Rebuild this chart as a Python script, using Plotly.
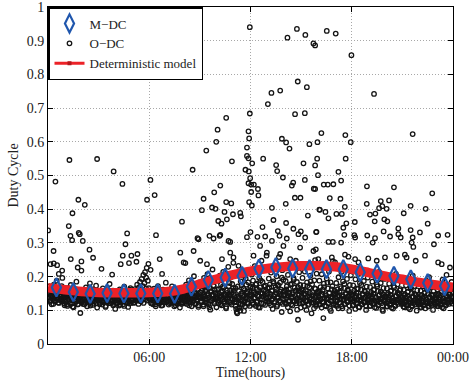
import plotly.graph_objects as go

# ---------------- data ----------------
# M-DC (hourly mean duty cycle), plotted at the middle of each hour
mdc_t = [0.5, 1.5, 2.5, 3.5, 4.5, 5.5, 6.5, 7.5, 8.5, 9.5, 10.5, 11.5,
         12.5, 13.5, 14.5, 15.5, 16.5, 17.5, 18.5, 19.5, 20.5, 21.5, 22.5, 23.5]
mdc_v = [0.168, 0.154, 0.149, 0.151, 0.150, 0.150, 0.150, 0.149, 0.170, 0.190, 0.197, 0.202,
         0.224, 0.228, 0.224, 0.222, 0.222, 0.222, 0.213, 0.209, 0.202, 0.192, 0.181, 0.172]

# Deterministic model
model_t = [0, 1, 2, 3, 4, 5, 6, 7, 8, 9, 10, 11, 12, 13, 14, 15, 16, 17, 18, 19, 20, 21, 22, 23, 24]
model_v = [0.167, 0.161, 0.156, 0.153, 0.152, 0.152, 0.153, 0.155, 0.163, 0.178, 0.193, 0.206, 0.216,
           0.224, 0.229, 0.232, 0.232, 0.229, 0.222, 0.212, 0.201, 0.192, 0.183, 0.175, 0.168]

# O-DC observations: dense band, samples per hour (regularly sampled within the hour)
band = [
    [.152,.138,.171,.129,.145,.163,.118,.157,.141,.134,.176,.149,.126,.160,.137,.188,.144,.131,.155,.122,.168,.140,.147,.133,.159,.196,.127,.151,.143,.115],
    [.139,.124,.158,.147,.113,.166,.132,.151,.128,.144,.175,.136,.120,.153,.141,.109,.162,.131,.149,.125,.185,.137,.146,.118,.157,.133,.142,.092,.129,.154],
    [.146,.131,.119,.158,.137,.125,.149,.168,.134,.112,.143,.155,.128,.139,.180,.122,.151,.133,.145,.116,.162,.138,.127,.147,.135,.173,.121,.141,.153,.130],
    [.135,.148,.122,.157,.129,.141,.117,.165,.138,.126,.152,.144,.113,.133,.160,.127,.147,.136,.121,.178,.140,.131,.150,.124,.143,.158,.119,.137,.146,.104],
    [.128,.143,.155,.121,.137,.149,.114,.162,.132,.141,.125,.153,.136,.118,.147,.170,.130,.139,.124,.158,.133,.145,.110,.151,.127,.140,.166,.122,.135,.148],
    [.134,.150,.122,.143,.163,.129,.157,.138,.176,.145,.131,.168,.152,.184,.127,.160,.193,.141,.172,.205,.136,.181,.213,.149,.197,.226,.158,.188,.238,.166],
    [.147,.131,.159,.122,.140,.153,.118,.136,.164,.128,.145,.112,.151,.138,.126,.172,.133,.143,.121,.157,.135,.129,.149,.115,.161,.139,.124,.146,.132,.182],
    [.139,.152,.126,.144,.117,.160,.133,.148,.123,.137,.171,.129,.154,.141,.112,.158,.135,.146,.120,.163,.131,.143,.127,.150,.108,.138,.166,.124,.145,.134],
    [.145,.162,.128,.151,.137,.176,.119,.156,.141,.133,.189,.124,.148,.167,.135,.112,.158,.143,.129,.201,.152,.138,.121,.171,.146,.131,.160,.115,.183,.140],
    [.153,.138,.181,.127,.164,.145,.112,.196,.141,.158,.123,.175,.134,.207,.149,.118,.168,.139,.102,.186,.155,.130,.221,.146,.172,.125,.161,.136,.192,.109],
    [.162,.135,.188,.121,.149,.203,.141,.176,.115,.157,.131,.214,.168,.127,.183,.145,.106,.196,.152,.138,.229,.171,.124,.159,.143,.199,.117,.178,.134,.241],
    [.158,.142,.126,.113,.104,.095,.091,.171,.137,.121,.108,.099,.186,.150,.131,.117,.203,.165,.144,.127,.112,.194,.176,.139,.155,.119,.212,.134,.147,.168],
    [.171,.143,.206,.122,.188,.157,.135,.231,.149,.113,.179,.162,.128,.214,.141,.196,.108,.168,.152,.247,.133,.184,.119,.159,.224,.146,.173,.137,.262,.127],
    [.165,.138,.194,.121,.177,.149,.212,.131,.158,.104,.186,.143,.233,.126,.169,.152,.201,.116,.175,.139,.258,.147,.182,.124,.161,.095,.219,.134,.191,.155],
    [.158,.132,.187,.119,.171,.145,.205,.126,.163,.149,.097,.228,.139,.178,.114,.153,.196,.128,.167,.142,.247,.121,.184,.136,.072,.159,.213,.131,.175,.108],
    [.162,.137,.196,.124,.174,.148,.215,.129,.157,.101,.183,.141,.238,.119,.168,.152,.203,.133,.091,.177,.145,.226,.122,.189,.139,.164,.113,.209,.154,.127],
    [.155,.131,.188,.117,.169,.143,.207,.125,.161,.077,.179,.137,.229,.148,.112,.194,.134,.165,.121,.215,.152,.104,.183,.140,.126,.172,.246,.146,.119,.158],
    [.149,.128,.181,.113,.162,.139,.198,.122,.155,.171,.134,.214,.145,.106,.186,.131,.166,.119,.226,.152,.137,.193,.124,.158,.143,.098,.175,.133,.204,.147],
    [.146,.127,.174,.116,.158,.137,.192,.121,.151,.165,.132,.208,.142,.109,.181,.128,.161,.118,.219,.149,.135,.187,.123,.155,.139,.101,.170,.130,.197,.144],
    [.143,.124,.169,.113,.154,.134,.185,.119,.148,.162,.129,.201,.139,.107,.176,.126,.157,.115,.214,.146,.132,.181,.121,.151,.137,.098,.166,.128,.193,.141],
    [.141,.122,.165,.111,.151,.131,.179,.117,.145,.158,.127,.196,.136,.105,.172,.124,.154,.113,.208,.143,.130,.177,.119,.148,.134,.159,.163,.126,.188,.139],
    [.138,.120,.161,.109,.148,.129,.174,.115,.142,.155,.125,.190,.134,.103,.168,.122,.151,.112,.203,.140,.128,.172,.117,.146,.132,.099,.159,.124,.183,.136],
    [.136,.118,.158,.108,.146,.127,.171,.114,.140,.152,.123,.186,.132,.165,.121,.149,.111,.198,.138,.126,.169,.116,.144,.130,.101,.156,.122,.179,.134,.147],
    [.139,.121,.162,.112,.149,.131,.176,.117,.144,.156,.127,.191,.136,.106,.169,.125,.153,.115,.205,.142,.133,.174,.119,.148,.135,.160,.128,.184,.141,.151],
]
band2 = [
    [.133,.147,.125,.161,.139,.152,.119,.144,.130,.166,.136,.149,.123,.157,.141,.128,.172,.135,.146,.120],
    [.129,.145,.117,.152,.134,.140,.123,.159,.137,.111,.148,.131,.163,.126,.143,.118,.136,.154,.127,.141],
    [.124,.139,.152,.118,.143,.130,.161,.126,.147,.135,.114,.150,.129,.141,.122,.156,.133,.145,.108,.138],
    [.131,.118,.146,.137,.124,.153,.129,.141,.110,.149,.134,.126,.158,.139,.121,.144,.132,.115,.151,.128],
    [.136,.122,.149,.131,.144,.117,.156,.138,.127,.142,.113,.152,.134,.125,.147,.139,.120,.161,.130,.143],
    [.131,.146,.124,.139,.154,.128,.143,.119,.150,.135,.127,.158,.140,.122,.147,.133,.165,.129,.144,.137],
    [.134,.148,.121,.140,.129,.155,.137,.118,.145,.131,.162,.126,.143,.135,.114,.150,.128,.141,.124,.157],
    [.128,.143,.136,.152,.121,.140,.130,.158,.125,.146,.133,.115,.149,.138,.124,.155,.131,.142,.119,.136],
    [.134,.121,.149,.140,.127,.157,.136,.115,.146,.131,.165,.124,.142,.138,.118,.152,.129,.144,.110,.137],
    [.142,.126,.158,.135,.117,.149,.131,.167,.122,.144,.138,.109,.155,.128,.146,.134,.174,.120,.151,.139],
    [.146,.129,.163,.138,.118,.154,.132,.171,.125,.148,.139,.110,.159,.127,.144,.181,.122,.151,.135,.166],
    [.149,.132,.166,.124,.141,.105,.157,.137,.118,.174,.145,.128,.098,.160,.135,.152,.121,.183,.143,.113],
    [.147,.129,.165,.118,.153,.138,.176,.124,.144,.109,.160,.133,.189,.121,.150,.141,.170,.116,.157,.135],
    [.151,.127,.168,.140,.115,.158,.134,.181,.122,.147,.162,.111,.138,.174,.129,.155,.143,.197,.119,.146],
    [.144,.123,.162,.137,.109,.153,.129,.177,.118,.148,.140,.191,.126,.158,.134,.102,.169,.145,.121,.155],
    [.141,.120,.159,.134,.112,.150,.127,.172,.116,.145,.138,.186,.123,.154,.131,.106,.165,.143,.118,.149],
    [.139,.118,.156,.132,.108,.147,.125,.169,.114,.143,.136,.182,.121,.151,.129,.098,.162,.141,.116,.147],
    [.137,.116,.153,.130,.106,.145,.123,.166,.112,.141,.134,.178,.119,.148,.127,.161,.140,.114,.152,.131],
    [.135,.114,.151,.128,.104,.143,.121,.163,.110,.139,.132,.175,.118,.146,.125,.158,.138,.112,.149,.129],
    [.133,.113,.148,.126,.142,.120,.160,.109,.137,.130,.171,.116,.144,.124,.155,.136,.102,.147,.127,.139],
    [.131,.112,.146,.125,.140,.118,.157,.108,.135,.129,.168,.115,.142,.123,.152,.134,.149,.126,.138,.119],
    [.130,.111,.144,.123,.138,.117,.154,.107,.133,.127,.164,.114,.140,.121,.149,.132,.146,.124,.136,.118],
    [.129,.110,.142,.122,.137,.116,.151,.106,.132,.126,.161,.113,.139,.120,.147,.131,.144,.123,.135,.117],
    [.131,.113,.145,.124,.139,.119,.155,.109,.134,.128,.165,.116,.141,.122,.150,.133,.147,.125,.137,.120],
]

# O-DC observations away from the band (time in hours, duty cycle)
out_t = [11.96, 14.75, 14.19, 15.25, 15.73, 15.83, 14.80, 15.34, 13.76, 13.24, 13.03, 11.96, 14.64, 15.22,
         10.56, 10.05, 11.88, 16.52, 17.05, 17.98, 19.32, 16.20, 17.62, 21.61, 15.97, 17.94, 15.95, 17.64,
         15.83, 17.21, 16.00, 17.37, 16.34, 16.58, 16.91, 18.90, 20.50, 22.77, 15.83, 16.70, 17.33, 18.89,
         19.72, 20.21, 21.49, 17.59, 16.11, 16.44, 17.09, 17.41, 19.08, 19.40, 19.62, 19.81, 20.07, 21.08,
         22.38, 16.62, 17.68, 19.36, 19.93, 20.11, 22.50, 17.50, 18.18, 20.76, 21.49, 19.89, 15.91, 22.04,
         1.27, 2.91, 3.89, 0.44, 4.41, 6.07, 1.80, 2.18, 5.87, 6.32, 0.01, 1.45, 1.23, 1.82, 1.88, 1.33,
         1.43, 2.06, 4.69, 4.59, 6.40, 7.94, 0.33, 2.46, 2.67, 1.35, 1.98, 1.76, 1.98, 4.43, 4.94, 5.30,
         4.31, 4.80, 5.24, 3.17, 3.80, 6.62, 6.08, 6.76, 7.84, 8.04, 0.15, 0.34, 0.54, 0.84, 0.64,
         9.97, 11.92, 13.86, 14.11, 14.31, 15.49, 9.38, 11.79, 10.90, 11.79, 11.88, 12.10, 12.75, 8.57,
         11.70, 11.90, 11.98, 13.52, 13.58, 15.14, 13.92, 15.22, 11.88, 12.04, 12.20, 12.44, 12.04, 12.47,
         14.53, 14.45, 15.75, 10.21, 9.85, 9.22, 14.63, 14.96, 11.92, 12.08, 10.56, 10.86, 9.72, 9.93,
         9.12, 13.27, 14.09, 15.40, 16.08, 10.46, 10.96, 11.39, 11.43, 10.60, 10.28, 10.09, 13.36, 14.11,
         12.00, 12.71, 9.57, 9.81, 10.21, 10.70, 10.80, 8.92, 13.62, 13.72, 14.15, 14.54, 14.84, 14.98,
         15.89, 12.41, 12.87, 11.79, 17.56, 18.15, 18.20, 18.92, 19.38, 20.27, 20.76, 20.90, 16.62, 16.88,
         17.37, 19.24, 21.61, 21.55, 21.65, 22.87, 23.68, 23.12, 15.87, 17.60, 17.80, 18.20, 18.40, 18.98,
         19.48, 19.97, 20.66, 21.15, 21.25, 21.79, 22.34, 23.12, 23.33, 23.82, 16.02, 16.32, 16.82, 17.01,
         8.14, 8.63, 8.86, 10.17, 10.80, 10.31, 10.99, 11.29, 9.42, 9.02, 12.18, 12.57, 12.97, 13.27,
         13.76, 13.95, 14.35, 14.94, 15.24, 15.73, 15.83]
out_v = [0.940, 0.935, 0.909, 0.917, 0.892, 0.886, 0.779, 0.762, 0.752, 0.745, 0.712, 0.684, 0.682, 0.685,
         0.671, 0.636, 0.631, 0.929, 0.921, 0.857, 0.742, 0.626, 0.620, 0.623, 0.599, 0.599, 0.550, 0.550,
         0.530, 0.511, 0.501, 0.485, 0.473, 0.473, 0.474, 0.468, 0.465, 0.447, 0.460, 0.433, 0.431, 0.416,
         0.424, 0.426, 0.410, 0.407, 0.398, 0.392, 0.386, 0.386, 0.384, 0.387, 0.403, 0.409, 0.401, 0.388,
         0.401, 0.373, 0.358, 0.364, 0.370, 0.364, 0.357, 0.345, 0.362, 0.343, 0.338, 0.334, 0.333, 0.331,
         0.546, 0.549, 0.512, 0.482, 0.475, 0.487, 0.428, 0.413, 0.428, 0.442, 0.337, 0.388, 0.350, 0.330, 0.326, 0.321,
         0.308, 0.306, 0.328, 0.296, 0.323, 0.363, 0.276, 0.280, 0.256, 0.252, 0.245, 0.227, 0.218, 0.262, 0.262, 0.267,
         0.237, 0.240, 0.244, 0.223, 0.206, 0.252, 0.220, 0.208, 0.271, 0.242, 0.237, 0.239, 0.234, 0.218, 0.208,
         0.600, 0.610, 0.609, 0.598, 0.580, 0.593, 0.574, 0.583, 0.542, 0.558, 0.551, 0.536, 0.550, 0.517,
         0.517, 0.512, 0.492, 0.531, 0.513, 0.536, 0.494, 0.487, 0.477, 0.473, 0.473, 0.460, 0.451, 0.441,
         0.479, 0.470, 0.461, 0.470, 0.450, 0.431, 0.434, 0.434, 0.421, 0.411, 0.421, 0.417, 0.405, 0.401,
         0.397, 0.404, 0.416, 0.381, 0.399, 0.392, 0.385, 0.389, 0.379, 0.370, 0.357, 0.365, 0.368, 0.359,
         0.332, 0.347, 0.321, 0.313, 0.324, 0.306, 0.303, 0.311, 0.335, 0.321, 0.313, 0.342, 0.326, 0.334,
         0.332, 0.318, 0.319, 0.317, 0.324, 0.323, 0.316, 0.322, 0.314, 0.319, 0.326, 0.316, 0.303, 0.303,
         0.301, 0.301, 0.316, 0.301, 0.288, 0.296, 0.324, 0.322, 0.281, 0.265, 0.259, 0.252, 0.242, 0.254,
         0.247, 0.257, 0.262, 0.265, 0.257, 0.247, 0.262, 0.242, 0.237, 0.227, 0.252, 0.237, 0.257, 0.242,
         0.240, 0.276, 0.314, 0.321, 0.271, 0.252, 0.257, 0.232, 0.237, 0.247, 0.262, 0.291, 0.271, 0.306,
         0.267, 0.291, 0.252, 0.286, 0.316, 0.276, 0.249]

x_tickvals = [6, 12, 18, 24]
x_ticktext = ["06:00", "12:00", "18:00", "00:00"]
y_tickvals = [0, 0.1, 0.2, 0.3, 0.4, 0.5, 0.6, 0.7, 0.8, 0.9, 1]
y_ticktext = ["0", "0.1", "0.2", "0.3", "0.4", "0.5", "0.6", "0.7", "0.8", "0.9", "1"]

# ---------------- build observation arrays ----------------
odc_t, odc_v = [], []
for h, vals in enumerate(band):
    n = len(vals)
    for i, v in enumerate(vals):
        odc_t.append(h + (i + 0.5) / n)
        odc_v.append(v)
for h, vals in enumerate(band2):
    n = len(vals)
    for i, v in enumerate(vals):
        odc_t.append(h + (i + 0.25) / n)
        odc_v.append(v)
odc_t += out_t
odc_v += out_v

FONT = "Liberation Serif, Times New Roman, serif"
RED = "#ec2227"
BLUE = "#1f56ad"

fig = go.Figure()

fig.add_trace(go.Scatter(
    x=odc_t, y=odc_v, mode="markers", name="O\u2212DC", legendrank=2,
    marker=dict(symbol="circle-open", size=4.5, color="#141414", line=dict(width=1.3)),
))
fig.add_trace(go.Scatter(
    x=model_t, y=model_v, mode="lines", showlegend=False, legendgroup="det",
    line=dict(color=RED, width=9.5, shape="spline"),
))
fig.add_trace(go.Scatter(
    x=[None], y=[None], mode="lines+markers", name="Deterministic model",
    legendgroup="det", legendrank=3,
    line=dict(color=RED, width=3),
    marker=dict(symbol="square", size=4, color="#b3161b"),
))
fig.add_trace(go.Scatter(
    x=mdc_t, y=mdc_v, mode="markers", name="M\u2212DC", legendrank=1,
    marker=dict(symbol="diamond-tall-open", size=13, color=BLUE, line=dict(width=2.2, color=BLUE)),
))

axis_common = dict(
    showgrid=True, gridcolor="#a8a8a8", griddash="1px,2px", gridwidth=1,
    showline=True, linecolor="black", linewidth=1, mirror="ticks",
    ticks="inside", ticklen=5, tickcolor="black", zeroline=False,
    tickfont=dict(family=FONT, size=14, color="#222"),
    ticklabeloverflow="allow",
    automargin=False,
)

fig.update_xaxes(
    range=[0, 24], tickvals=x_tickvals, ticktext=x_ticktext,
    title=dict(text="Time(hours)", font=dict(family=FONT, size=14, color="#222"), standoff=0),
    **axis_common,
)
fig.update_yaxes(
    range=[0, 1], tickvals=y_tickvals, ticktext=y_ticktext,
    title=dict(text="Duty Cycle", font=dict(family=FONT, size=14, color="#222"), standoff=4),
    **axis_common,
)

fig.update_layout(
    width=470, height=385,
    margin=dict(l=48, r=17, t=7, b=41),
    paper_bgcolor="white", plot_bgcolor="white",
    font=dict(family=FONT, size=14, color="#222"),
    legend=dict(
        x=0, y=1, xanchor="left", yanchor="top",
        bgcolor="white", bordercolor="black", borderwidth=1.5,
        font=dict(family=FONT, size=13, color="#222"),
        tracegroupgap=0, itemwidth=30,
    ),
)

fig.write_html("out.html")
